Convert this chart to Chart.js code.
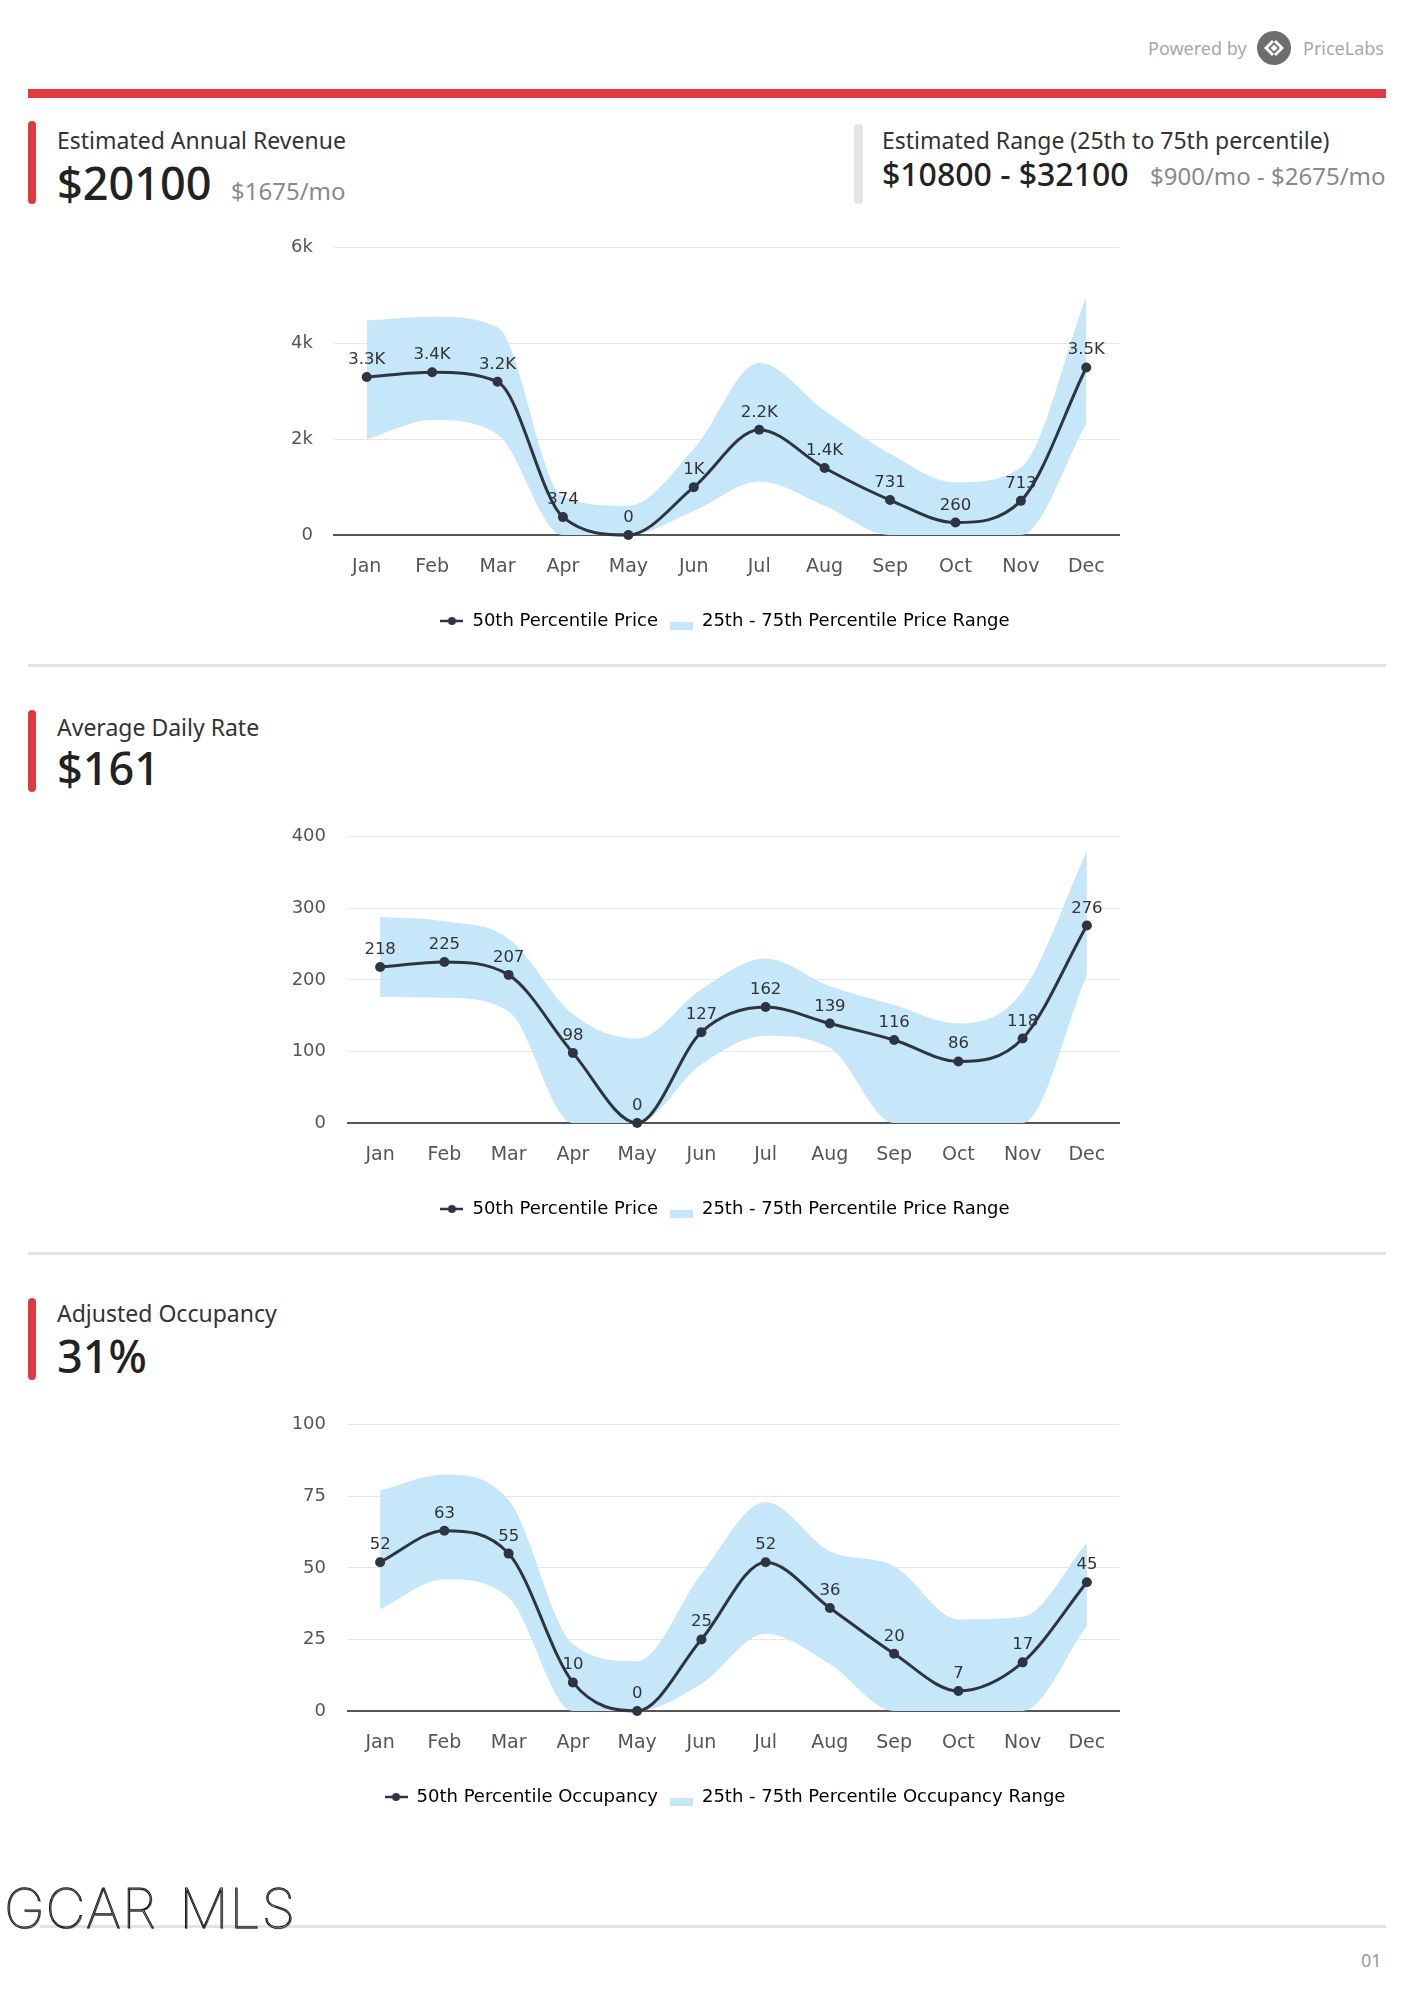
<!DOCTYPE html>
<html>
<head>
<meta charset="utf-8">
<script src="https://cdn.jsdelivr.net/npm/chart.js@4.4.1/dist/chart.umd.min.js"></script>
<style>
  html, body { margin: 0; padding: 0; background: #fff; }
  body { width: 1414px; height: 2000px; position: relative; overflow: hidden; font-family: 'Noto Sans', sans-serif; color: #2b2b2b; }
  .abs { position: absolute; white-space: nowrap; }
  .bar { position: absolute; width: 8px; border-radius: 4px; background: #e03a3e; }
  .title { font-size: 23px; line-height: 23px; color: #333; }
  .big { font-size: 45px; line-height: 45px; font-weight: 500; color: #222; }
  .sub { font-size: 24px; line-height: 24px; color: #8a8a8a; }
  .rule { position: absolute; left: 28px; width: 1358px; height: 3px; background: #e3e3e3; }
  canvas { position: absolute; }
</style>
</head>
<body>
<div class="abs" style="left:1148px; top:37px; font-size:18px; line-height:22px; color:#a8a8a8;">Powered by</div>
<svg class="abs" style="left:1257px; top:31px;" width="34" height="34" viewBox="0 0 34 34">
  <circle cx="17" cy="17" r="17" fill="#6e6e6e"/>
  <path d="M15 9 L7 17 L15 25 L17 23 L11 17 L17 11 Z" fill="#fff"/>
  <path d="M19 9 L27 17 L19 25 L17 23 L23 17 L17 11 Z" fill="#fff"/>
  <path d="M17 13.5 L20.5 17 L17 20.5 L13.5 17 Z" fill="#fff"/>
</svg>
<div class="abs" style="left:1303px; top:37px; font-size:18px; line-height:22px; color:#a8a8a8;">PriceLabs</div>
<div class="abs" style="left:28px; top:89px; width:1358px; height:9px; background:#e03a3e;"></div>

<div class="bar" style="left:28px; top:121px; height:83px;"></div>
<div class="abs title" style="left:57px; top:129px;">Estimated Annual Revenue</div>
<div class="abs big" style="left:57px; top:160px;">$20100</div>
<div class="abs sub" style="left:231px; top:179px;">$1675/mo</div>

<div class="bar" style="left:854px; top:124px; height:80px; width:9px; background:#e4e4e4;"></div>
<div class="abs title" style="left:882px; top:129px;">Estimated Range (25th to 75th percentile)</div>
<div class="abs" style="left:882px; top:158px; font-size:32px; line-height:32px; font-weight:500; color:#222;">$10800 - $32100</div>
<div class="abs sub" style="left:1150px; top:164px;">$900/mo - $2675/mo</div>

<canvas id="c1" width="910" height="424" style="left:270px; top:216px;"></canvas>
<div class="rule" style="top:664px;"></div>

<div class="bar" style="left:28px; top:710px; height:82px;"></div>
<div class="abs title" style="left:57px; top:716px;">Average Daily Rate</div>
<div class="abs big" style="left:57px; top:745px;">$161</div>

<canvas id="c2" width="910" height="424" style="left:270px; top:804px;"></canvas>
<div class="rule" style="top:1252px;"></div>

<div class="bar" style="left:28px; top:1298px; height:82px;"></div>
<div class="abs title" style="left:57px; top:1302px;">Adjusted Occupancy</div>
<div class="abs big" style="left:57px; top:1333px;">31%</div>

<canvas id="c3" width="910" height="424" style="left:270px; top:1392px;"></canvas>

<div class="rule" style="top:1925px; left:40px; width:1346px;"></div>
<div class="abs" style="left:4px; top:1875px; font-family:Inter, sans-serif; font-size:55px; line-height:66px; font-weight:100; color:#fff; -webkit-text-stroke:1px #111; letter-spacing:1px; word-spacing:6px; text-shadow:1px 1px 0 #bbb;">GCAR MLS</div>
<div class="abs" style="left:1361px; top:1949px; font-size:18px; line-height:22px; color:#9a9a9a;">01</div>

<script>
'use strict';
const months = ['Jan', 'Feb', 'Mar', 'Apr', 'May', 'Jun', 'Jul', 'Aug', 'Sep', 'Oct', 'Nov', 'Dec'];

// revenue
const revenueMedian = [3300, 3400, 3200, 374, 0, 1000, 2200, 1400, 731, 260, 713, 3500];
const revenueLow = [2000, 2400, 2100, 0, 0, 500, 1120, 610, 0, 0, 0, 2320];
const revenueHigh = [4480, 4560, 4340, 800, 610, 1800, 3600, 2600, 1700, 1100, 1410, 4980];
const revenueTicks = ['0', '2k', '4k', '6k'];

// average daily rate
const rateMedian = [218, 225, 207, 98, 0, 127, 162, 139, 116, 86, 118, 276];
const rateLow = [176, 175, 156, 0, 0, 82, 122, 105, 0, 0, 0, 207];
const rateHigh = [288, 282, 258, 152, 118, 187, 230, 191, 165, 139, 184, 380];
const rateTicks = ['0', '100', '200', '300', '400'];

// occupancy
const occMedian = [52, 63, 55, 10, 0, 25, 52, 36, 20, 7, 17, 45];
const occLow = [35.5, 46, 39.6, 0, 0, 9.5, 27, 16.4, 0, 0, 0, 29.7];
const occHigh = [77, 82.6, 73.7, 23.4, 17.4, 47.9, 73, 55.8, 50.6, 32, 32.9, 58.7];
const occTicks = ['0', '25', '50', '75', '100'];

const lineColor = '#2e3540';
const bandColor = '#c6e6fa';
const chartFont = 'DejaVu Sans';

// little legend markers
function lineMarker() {
	const c = document.createElement('canvas');
	c.width = 23; c.height = 12;
	const g = c.getContext('2d');
	g.strokeStyle = lineColor; g.lineWidth = 2.5;
	g.beginPath(); g.moveTo(0, 6); g.lineTo(23, 6); g.stroke();
	g.fillStyle = lineColor;
	g.beginPath(); g.arc(11.5, 6, 4, 0, Math.PI * 2); g.fill();
	return c;
}
function rangeMarker() {
	const c = document.createElement('canvas');
	c.width = 23; c.height = 18;
	const g = c.getContext('2d');
	g.fillStyle = bandColor;
	g.fillRect(0, 10, 23, 8);
	return c;
}

const pointLabels = {
	id: 'pointLabels',
	afterDatasetsDraw(chart, args, opts) {
		const ctx = chart.ctx;
		const meta = chart.getDatasetMeta(0);
		const values = chart.data.datasets[0].data;
		ctx.save();
		ctx.font = '16.5px "' + chartFont + '"';
		ctx.fillStyle = '#333';
		ctx.textAlign = 'center';
		ctx.textBaseline = 'bottom';
		meta.data.forEach((pt, i) => {
			ctx.fillText(opts.format(values[i]), pt.x, pt.y - 9);
		});
		ctx.restore();
	}
};

const kFormat = (v) => (v >= 1000 ? (v / 1000).toFixed(1).replace(/\.0$/, '') + 'K' : String(v));

function makeChart(id, cfg) {
	const ctx = document.getElementById(id);
	return new Chart(ctx, {
		type: 'line',
		data: {
			labels: months,
			datasets: [
				{
					label: cfg.medianLabel,
					data: cfg.median,
					borderColor: lineColor,
					backgroundColor: lineColor,
					borderWidth: 3,
					pointRadius: 5,
					pointBackgroundColor: lineColor,
					pointBorderWidth: 0,
					cubicInterpolationMode: 'monotone',
					fill: false,
					clip: false,
					order: 0,
				},
				{
					label: cfg.rangeLabel,
					data: cfg.high,
					borderWidth: 0,
					pointRadius: 0,
					backgroundColor: bandColor,
					cubicInterpolationMode: 'monotone',
					fill: '+1',
					order: 1,
				},
				{
					label: 'low',
					data: cfg.low,
					borderWidth: 0,
					pointRadius: 0,
					backgroundColor: bandColor,
					cubicInterpolationMode: 'monotone',
					fill: false,
					order: 2,
				},
			],
		},
		options: {
			responsive: false,
			animation: false,
			devicePixelRatio: 1,
			layout: { padding: { top: 30, right: 0, left: 0, bottom: 0 } },
			scales: {
				x: {
					offset: true,
					grid: { display: false, drawTicks: false },
					border: { color: '#555', width: 2 },
					ticks: { color: '#555', font: { family: chartFont, size: 19 }, padding: 21 },
					afterFit: (s) => { s.height = 65; },
				},
				y: {
					min: 0,
					max: cfg.max,
					ticks: {
						stepSize: cfg.step,
						color: '#555',
						font: { family: chartFont, size: 18 },
						padding: cfg.tickPad,
						callback: (v, i) => cfg.ticks[i],
					},
					grid: { color: '#e6e6e6', drawTicks: false },
					border: { display: false },
					afterFit: (s) => { s.width = cfg.axisWidth; },
				},
				// empty right-hand gutter so the legend centres like the original
				gutter: {
					type: 'linear',
					position: 'right',
					grid: { display: false, drawTicks: false },
					border: { display: false },
					ticks: { display: false },
					afterFit: (s) => { s.width = 61; },
				},
			},
			plugins: {
				tooltip: { enabled: false },
				pointLabels: { format: cfg.format },
				legend: {
					position: 'bottom',
					labels: {
						usePointStyle: true,
						pointStyleWidth: 23,
						padding: 12,
						color: '#333',
						font: { family: chartFont, size: 18 },
						generateLabels: () => [
							{ text: cfg.medianLabel, pointStyle: lineMarker(), fillStyle: lineColor, strokeStyle: 'rgba(0,0,0,0)', lineWidth: 0, hidden: false, datasetIndex: 0 },
							{ text: cfg.rangeLabel, pointStyle: rangeMarker(), fillStyle: bandColor, strokeStyle: 'rgba(0,0,0,0)', lineWidth: 0, hidden: false, datasetIndex: 1 },
						],
					},
				},
			},
		},
		plugins: [pointLabels],
	});
}

makeChart('c1', {
	median: revenueMedian, low: revenueLow, high: revenueHigh,
	max: 6000, step: 2000, ticks: revenueTicks, axisWidth: 64, tickPad: 21,
	format: kFormat,
	medianLabel: '50th Percentile Price', rangeLabel: '25th - 75th Percentile Price Range',
});
makeChart('c2', {
	median: rateMedian, low: rateLow, high: rateHigh,
	max: 400, step: 100, ticks: rateTicks, axisWidth: 78, tickPad: 22,
	format: (v) => String(v),
	medianLabel: '50th Percentile Price', rangeLabel: '25th - 75th Percentile Price Range',
});
makeChart('c3', {
	median: occMedian, low: occLow, high: occHigh,
	max: 100, step: 25, ticks: occTicks, axisWidth: 78, tickPad: 22,
	format: (v) => String(v),
	medianLabel: '50th Percentile Occupancy', rangeLabel: '25th - 75th Percentile Occupancy Range',
});
</script>
</body>
</html>
